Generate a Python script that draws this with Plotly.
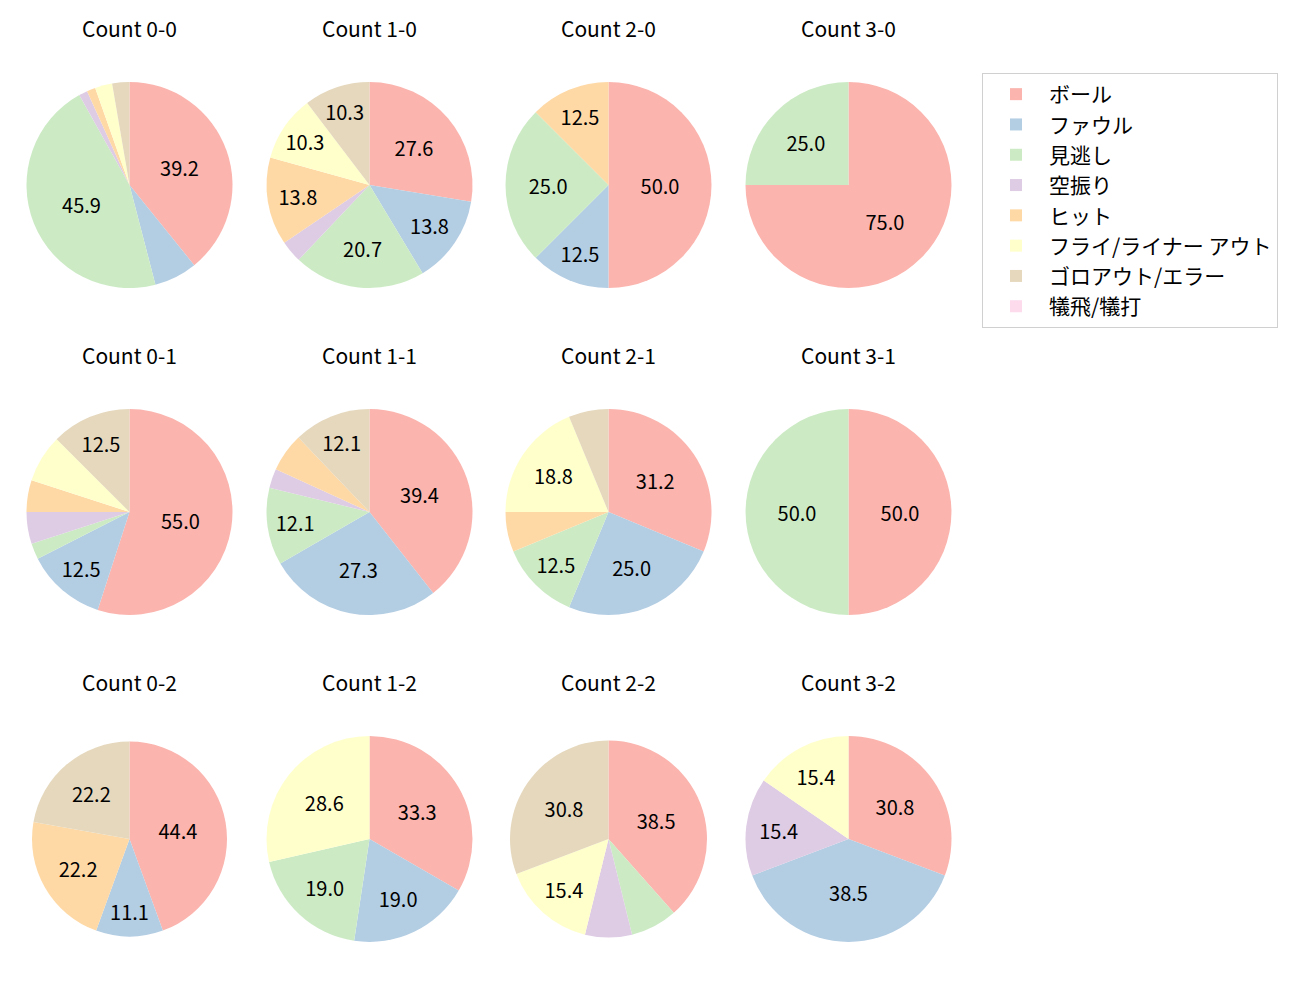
import plotly.graph_objects as go

# result categories (legend order)
labels = ["ボール", "ファウル", "見逃し", "空振り", "ヒット",
          "フライ/ライナー アウト", "ゴロアウト/エラー", "犠飛/犠打"]
colors = ["#fbb4ae", "#b3cde3", "#ccebc5", "#decbe4", "#fed9a6",
          "#ffffcc", "#e5d8bd", "#fddaec"]

# pitch counts per ball-strike count, same order as labels
count_names = ["0-0", "1-0", "2-0", "3-0",
               "0-1", "1-1", "2-1", "3-1",
               "0-2", "1-2", "2-2", "3-2"]
c_0_0 = [29, 5, 34, 1, 1, 2, 2, 0]
c_1_0 = [8, 4, 6, 1, 4, 3, 3, 0]
c_2_0 = [4, 1, 2, 0, 1, 0, 0, 0]
c_3_0 = [3, 0, 1, 0, 0, 0, 0, 0]
c_0_1 = [22, 5, 1, 2, 2, 3, 5, 0]
c_1_1 = [13, 9, 4, 1, 2, 0, 4, 0]
c_2_1 = [5, 4, 2, 0, 1, 3, 1, 0]
c_3_1 = [1, 0, 1, 0, 0, 0, 0, 0]
c_0_2 = [4, 1, 0, 0, 2, 0, 2, 0]
c_1_2 = [7, 4, 4, 0, 0, 6, 0, 0]
c_2_2 = [5, 0, 1, 1, 0, 2, 4, 0]
c_3_2 = [4, 5, 0, 2, 0, 2, 0, 0]
counts = [c_0_0, c_1_0, c_2_0, c_3_0, c_0_1, c_1_1, c_2_1, c_3_1,
          c_0_2, c_1_2, c_2_2, c_3_2]

# page body adds an 8px margin, so the figure is shrunk by that much
OFF = 8
W, H = 1300 - OFF, 1000 - OFF
col_x = [129.5, 369.5, 608.5, 848.5]
row_y = [185, 512, 839]
# pie radius in px (a couple of pies are drawn a bit smaller)
radii = [103, 103, 103, 103,
         103, 103, 103, 103,
         97.5, 103, 98.5, 103]
FONT = "Noto Sans CJK JP"


def px(x):
    return (x - OFF) / W


def py(y):
    return 1 - (y - OFF) / H


fig = go.Figure()
annotations = []
for i, (name, vals) in enumerate(zip(count_names, counts)):
    cx = col_x[i % 4]
    cy = row_y[i // 4]
    r = radii[i]
    total = sum(vals)
    # only label slices of 10% or more
    txt = [f"{v / total * 100:.1f}" if v / total >= 0.1 else "" for v in vals]
    fig.add_trace(go.Pie(
        labels=labels,
        values=vals,
        text=txt,
        textinfo="text",
        textposition="inside",
        insidetextorientation="horizontal",
        textfont=dict(size=20, color="black", family=FONT),
        marker=dict(colors=colors, line=dict(width=0)),
        sort=False,
        direction="clockwise",
        rotation=0,
        hoverinfo="label+percent",
        showlegend=(i == 0),
        domain=dict(x=[px(cx - r), px(cx + r)],
                    y=[py(cy + r), py(cy - r)]),
    ))
    annotations.append(dict(
        text=f"Count {name}", x=px(cx), y=py(cy - 157),
        xref="paper", yref="paper", showarrow=False,
        xanchor="center", yanchor="middle",
        font=dict(size=21, color="black", family=FONT),
    ))

fig.update_layout(
    width=W, height=H,
    margin=dict(l=0, r=0, t=0, b=0),
    paper_bgcolor="white",
    plot_bgcolor="white",
    font=dict(family=FONT, size=21, color="black"),
    annotations=annotations,
    legend=dict(
        x=px(982), y=py(73), xanchor="left", yanchor="top",
        bordercolor="#d0d0d0", borderwidth=1,
        font=dict(size=21, family=FONT),
        traceorder="normal",
        itemwidth=56,
    ),
)

fig.write_html("out.html")
